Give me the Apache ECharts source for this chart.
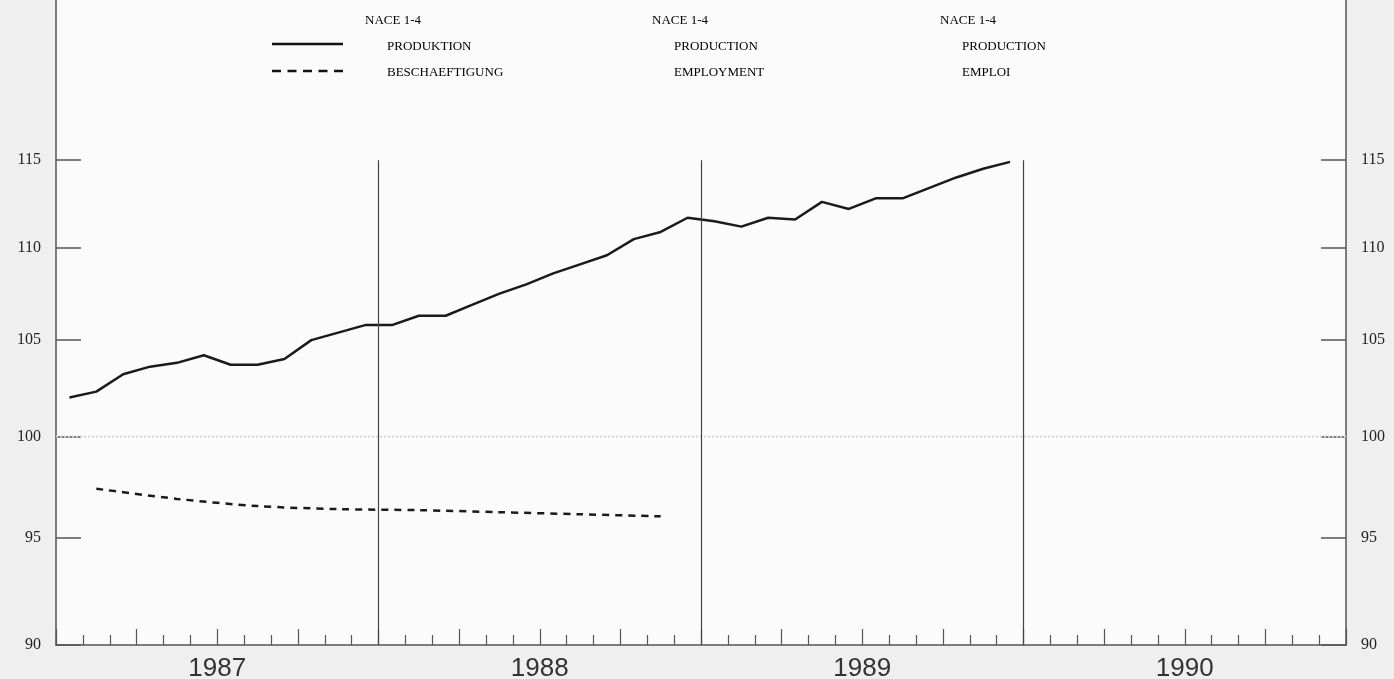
<!DOCTYPE html>
<html>
<head>
<meta charset="UTF-8">
<title>NACE 1-4</title>
<script src="https://cdn.jsdelivr.net/npm/echarts@6/dist/echarts.min.js"></script>
<style>
  * { margin: 0; padding: 0; }
  #app { width: 1394px; height: 679px; }
</style>
</head>
<body>
<div id="app"></div>
<script>
  // monthly production index, Jan 1987 - Dec 1989
  var production = [
    102.0, 102.3, 103.2, 103.6, 103.8, 104.2, 103.7, 103.7, 104.0, 105.0, 105.4, 105.8,
    105.8, 106.3, 106.3, 106.9, 107.5, 108.0, 108.6, 109.1, 109.6, 110.5, 110.9, 111.7,
    111.5, 111.2, 111.7, 111.6, 112.6, 112.2, 112.8, 112.8, 113.4, 114.0, 114.5, 114.9
  ];
  // quarterly employment index, Q1 1987 - Q4 1988
  var employment = [97.4, 96.9, 96.55, 96.4, 96.35, 96.25, 96.15, 96.05];
  var years = ['1987', '1988', '1989', '1990'];
  var yTicks = [90, 95, 100, 105, 110, 115];
  var yMin = 90, yMax = 124.7;

  var legendCols = [
    { x: 365, title: 'NACE 1-4', prod: 'PRODUKTION', emp: 'BESCHAEFTIGUNG' },
    { x: 652, title: 'NACE 1-4', prod: 'PRODUCTION', emp: 'EMPLOYMENT' },
    { x: 940, title: 'NACE 1-4', prod: 'PRODUCTION', emp: 'EMPLOI' }
  ];

  var ln = Math.log;
  var prodData = production.map(function (v, i) { return [i + 0.5, ln(v)]; });
  var empData = employment.map(function (v, i) { return [i * 3 + 1.5, ln(v)]; });
  var yearLines = [12, 24, 36].map(function (m) {
    return [{ coord: [m, ln(90)] }, { coord: [m, ln(115)] }];
  });

  var font = 'Liberation Serif';
  var graphics = [];
  legendCols.forEach(function (c) {
    graphics.push({ type: 'text', left: c.x, top: 14, style: { text: c.title, font: '13px ' + font, fill: '#000' } });
    graphics.push({ type: 'text', left: c.x + 22, top: 40, style: { text: c.prod, font: '13px ' + font, fill: '#000' } });
    graphics.push({ type: 'text', left: c.x + 22, top: 66, style: { text: c.emp, font: '13px ' + font, fill: '#000' } });
  });
  graphics.push({ type: 'line', shape: { x1: 272, y1: 44, x2: 343, y2: 44 }, style: { stroke: '#111', lineWidth: 2.5 } });
  graphics.push({ type: 'line', shape: { x1: 272, y1: 71, x2: 343, y2: 71 }, style: { stroke: '#111', lineWidth: 2.5, lineDash: [9, 6.5] } });

  function yAxisDef(pos) {
    return {
      type: 'value',
      position: pos,
      min: ln(yMin),
      max: ln(yMax),
      splitLine: { show: false },
      axisLine: { show: true, lineStyle: { color: '#555', width: 1.5 } },
      axisTick: {
        show: true, inside: true, length: 25,
        customValues: yTicks.map(ln),
        lineStyle: { color: '#555', width: 1.5 }
      },
      axisLabel: {
        customValues: yTicks.map(ln),
        margin: 15,
        fontFamily: font, fontSize: 16, color: '#222',
        formatter: function (v) { return String(Math.round(Math.exp(v))); }
      }
    };
  }

  var chart = echarts.init(document.getElementById('app'));
  chart.setOption({
    backgroundColor: '#efefef',
    animation: false,
    grid: {
      left: 56, right: 48, top: 0, bottom: 34,
      show: true, backgroundColor: '#fbfbfb', borderWidth: 0,
      outerBoundsMode: 'none'
    },
    xAxis: {
      type: 'value',
      min: 0, max: 48, interval: 3,
      splitLine: { show: false },
      axisLine: { lineStyle: { color: '#555', width: 1.5 } },
      axisTick: { inside: true, length: 16, lineStyle: { color: '#555', width: 1.2 } },
      minorTick: { show: true, splitNumber: 3, length: 10, lineStyle: { color: '#555', width: 1.2 } },
      axisLabel: {
        customValues: [6, 18, 30, 42],
        margin: 11,
        fontFamily: 'Liberation Sans', fontSize: 26, color: '#333',
        formatter: function (v) { return years[(v - 6) / 12]; }
      }
    },
    yAxis: [yAxisDef('left'), yAxisDef('right')],
    graphic: graphics,
    series: [
      {
        type: 'line',
        data: [[0, ln(100)], [48, ln(100)]],
        symbol: 'none',
        silent: true,
        lineStyle: { color: '#d6d6d6', width: 2, type: 'dotted' }
      },
      {
        name: 'PRODUKTION',
        type: 'line',
        data: prodData,
        symbol: 'none',
        lineStyle: { color: '#1a1a1a', width: 2.5 },
        markLine: {
          silent: true,
          symbol: 'none',
          label: { show: false },
          lineStyle: { color: '#444', width: 1.2, type: 'solid' },
          data: yearLines
        }
      },
      {
        name: 'BESCHAEFTIGUNG',
        type: 'line',
        data: empData,
        symbol: 'none',
        smooth: 0.3,
        lineStyle: { color: '#1a1a1a', width: 2.5, type: [7, 6] }
      }
    ]
  });
</script>
</body>
</html>
